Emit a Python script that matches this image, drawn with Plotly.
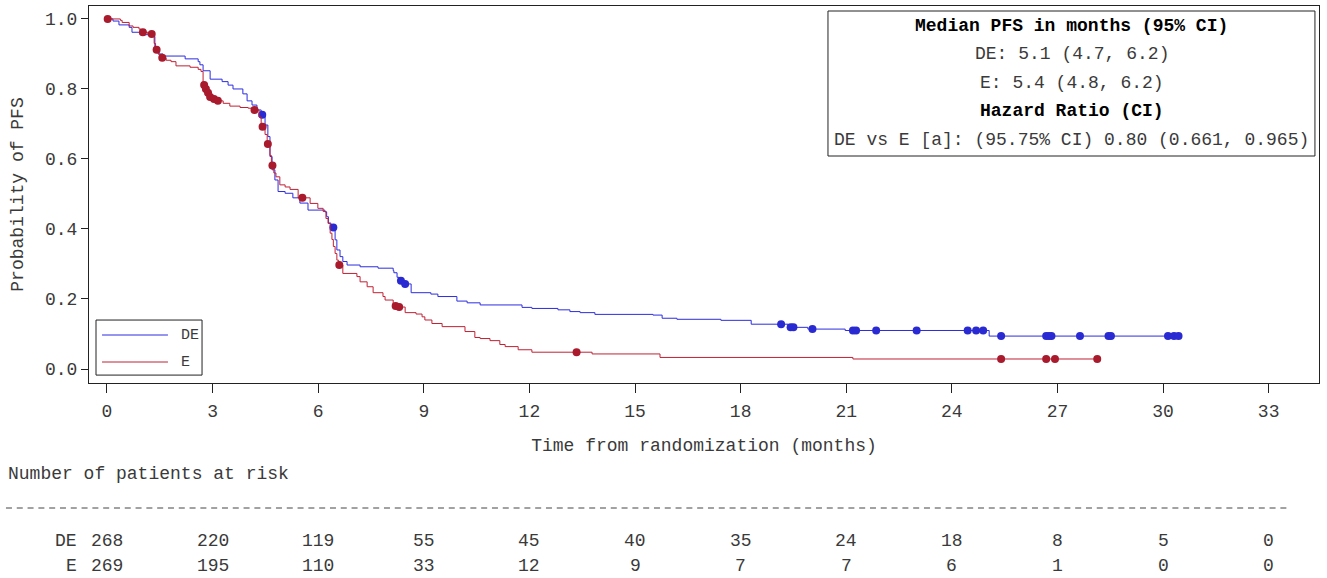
import numpy as np
import plotly.graph_objects as go

# ---- Kaplan-Meier estimates (months, survival probability after each event) ----
de_event_t = [0.17, 0.34, 0.63, 0.71, 0.94, 1.31, 1.36, 1.45, 1.59, 2.22, 2.59, 2.64, 2.73, 2.93,
              3.27, 3.44, 3.58, 3.86, 3.98, 4.12, 4.26, 4.38, 4.49, 4.57, 4.63, 4.69, 4.77, 4.86,
              5.06, 5.28, 5.48, 5.71, 6.19, 6.24, 6.29, 6.36, 6.48, 6.53, 6.62, 6.70, 6.82, 7.19,
              7.70, 8.13, 8.15, 8.24, 8.30, 8.41, 8.64, 9.20, 9.40, 9.94, 10.23, 10.60, 11.79,
              12.07, 12.81, 13.15, 13.44, 13.86, 15.51, 15.77, 16.19, 17.44, 18.30, 19.35, 19.91,
              20.97, 25.06]
de_event_s = [0.994, 0.983, 0.976, 0.962, 0.955, 0.950, 0.920, 0.900, 0.894, 0.886, 0.878, 0.869,
              0.852, 0.828, 0.821, 0.811, 0.800, 0.786, 0.766, 0.754, 0.740, 0.726, 0.697, 0.664,
              0.607, 0.569, 0.540, 0.507, 0.502, 0.489, 0.474, 0.454, 0.449, 0.435, 0.417, 0.404,
              0.369, 0.340, 0.321, 0.307, 0.297, 0.292, 0.288, 0.281, 0.275, 0.262, 0.252, 0.243,
              0.218, 0.214, 0.207, 0.194, 0.189, 0.183, 0.176, 0.173, 0.169, 0.164, 0.161, 0.156,
              0.154, 0.145, 0.142, 0.139, 0.128, 0.119, 0.114, 0.110, 0.094]
de_censor_t = [4.41, 6.43, 8.35, 8.47, 19.15, 19.42, 19.50, 20.04, 21.19, 21.28, 21.85, 23.00,
               24.45, 24.69, 24.89, 25.40, 26.68, 26.76, 26.83, 27.64, 28.45, 28.52, 30.14,
               30.31, 30.44]

e_event_t = [0.38, 0.43, 0.63, 0.74, 0.91, 0.97, 1.16, 1.34, 1.38, 1.48, 1.55, 1.68, 1.82, 1.96,
             2.36, 2.59, 2.67, 2.73, 2.78, 2.84, 2.90, 2.98, 3.10, 3.30, 3.49, 3.78, 4.01, 4.12,
             4.32, 4.38, 4.49, 4.55, 4.63, 4.67, 4.74, 4.80, 4.91, 5.06, 5.20, 5.43, 5.77, 5.99,
             6.14, 6.22, 6.28, 6.34, 6.39, 6.43, 6.48, 6.53, 6.58, 6.70, 7.10, 7.19, 7.39, 7.56,
             7.84, 7.90, 8.13, 8.24, 8.47, 8.78, 8.95, 9.03, 9.23, 9.52, 10.17, 10.45, 10.60,
             10.88, 11.16, 11.31, 11.68, 12.07, 13.78, 15.71, 21.19]
e_event_s = [0.996, 0.990, 0.980, 0.976, 0.971, 0.962, 0.957, 0.930, 0.912, 0.897, 0.889, 0.882,
             0.878, 0.866, 0.862, 0.856, 0.850, 0.811, 0.800, 0.789, 0.777, 0.771, 0.766, 0.759,
             0.751, 0.747, 0.745, 0.740, 0.720, 0.692, 0.670, 0.643, 0.610, 0.581, 0.560, 0.549,
             0.526, 0.520, 0.513, 0.489, 0.473, 0.459, 0.450, 0.430, 0.416, 0.388, 0.370, 0.350,
             0.330, 0.311, 0.297, 0.273, 0.264, 0.249, 0.235, 0.218, 0.207, 0.197, 0.180, 0.177,
             0.161, 0.157, 0.149, 0.140, 0.130, 0.121, 0.107, 0.090, 0.087, 0.081, 0.070, 0.064,
             0.055, 0.048, 0.043, 0.033, 0.0286]
e_censor_t = [0.02, 1.02, 1.27, 1.41, 1.57, 2.76, 2.81, 2.87, 2.93, 3.04, 3.15, 4.19, 4.42, 4.57,
              4.70, 5.55, 6.60, 8.20, 8.30, 13.34, 25.40, 26.68, 26.93, 28.13]

# ---- numbers at risk ----
risk_times = [0, 3, 6, 9, 12, 15, 18, 21, 24, 27, 30, 33]
risk_de = [268, 220, 119, 55, 45, 40, 35, 24, 18, 8, 5, 0]
risk_e = [269, 195, 110, 33, 12, 9, 7, 7, 6, 1, 0, 0]

arm_names = ["DE", "E"]
line_colors = ["#2c2ce0", "#c02034"]
dot_colors = ["#2a2ad2", "#a81a2c"]

x_ticks = list(range(0, 34, 3))
y_ticks = [0.0, 0.2, 0.4, 0.6, 0.8, 1.0]

stats_lines = [
    "<b>Median PFS in months (95% CI)</b>",
    "DE: 5.1 (4.7, 6.2)",
    "E: 5.4 (4.8, 6.2)",
    "<b>Hazard Ratio (CI)</b>",
    "DE vs E [a]: (95.75% CI) 0.80 (0.661, 0.965)",
]

FONT = "Liberation Mono, Courier New, monospace"
TXT = "#3a3a3a"


def km_path(ev_t, ev_s, cen_t):
    """Step path from t=0 to the last observation, plus survival at censor times."""
    ev_t = np.asarray(ev_t, float)
    ev_s = np.asarray(ev_s, float)
    t_end = max(ev_t.max(), max(cen_t))
    xs = np.concatenate([[0.0], ev_t, [t_end]])
    ys = np.concatenate([[1.0], ev_s, [ev_s[-1]]])
    idx = np.searchsorted(ev_t, np.asarray(cen_t), side="right")
    surv_all = np.concatenate([[1.0], ev_s])
    return xs, ys, surv_all[idx]


fig = go.Figure()
arms = [(de_event_t, de_event_s, de_censor_t), (e_event_t, e_event_s, e_censor_t)]
for k, (et, es, ct) in enumerate(arms):
    xs, ys, cy = km_path(et, es, ct)
    fig.add_trace(go.Scatter(x=xs, y=ys, mode="lines", line=dict(shape="hv", color=line_colors[k], width=1),
                             name=arm_names[k], showlegend=False, hoverinfo="skip"))
    fig.add_trace(go.Scatter(x=ct, y=cy, mode="markers", marker=dict(color=dot_colors[k], size=8),
                             name=arm_names[k] + " censored", showlegend=False, hoverinfo="skip"))

# Legend box drawn inside the plotting area (lower-left)
shapes = [
    dict(type="rect", xref="paper", yref="paper", x0=0.0057, x1=0.0919, y0=0.021, y1=0.167,
         line=dict(color="#222", width=1), fillcolor="white", layer="above"),
    dict(type="line", xref="paper", yref="paper", x0=0.0106, x1=0.0642, y0=0.1273, y1=0.1273,
         line=dict(color=line_colors[0], width=1), layer="above"),
    dict(type="line", xref="paper", yref="paper", x0=0.0106, x1=0.0642, y0=0.0557, y1=0.0557,
         line=dict(color=line_colors[1], width=1), layer="above"),
    # statistics box
    dict(type="rect", xref="paper", yref="paper", x0=0.6008, x1=0.9967, y0=0.6021, y1=0.9867,
         line=dict(color="#222", width=1), fillcolor="white", layer="below"),
    # separator of the risk table
    dict(type="line", xref="paper", yref="paper", x0=-0.0675, x1=0.977, y0=-0.3316, y1=-0.3316,
         line=dict(color="#444", width=1, dash="6px,4.8px")),
]

annotations = [
    dict(xref="paper", yref="paper", x=0.0732, y=0.1273, text="DE", showarrow=False,
         xanchor="left", yanchor="middle", font=dict(family=FONT, size=15, color=TXT)),
    dict(xref="paper", yref="paper", x=0.0732, y=0.0557, text="E", showarrow=False,
         xanchor="left", yanchor="middle", font=dict(family=FONT, size=15, color=TXT)),
    dict(xref="paper", yref="paper", x=-0.0675, y=-0.2420, text="Number of patients at risk",
         showarrow=False, xanchor="left", yanchor="middle", font=dict(family=FONT, size=18, color=TXT)),
]

stats_y = [0.9478, 0.8719, 0.7950, 0.7215, 0.6446]
for txt, yy in zip(stats_lines, stats_y):
    bold = txt.startswith("<b>")
    annotations.append(dict(xref="paper", yref="paper", x=0.7988, y=yy, text=txt, showarrow=False,
                            xanchor="center", yanchor="middle",
                            font=dict(family=FONT, size=18, color="#000" if bold else TXT)))

row_y = [-0.4200, -0.4860]
for name, counts, yy in zip(arm_names, [risk_de, risk_e], row_y):
    # arm label sits just left of the t=0 column, outside the axis range
    annotations.append(dict(xref="paper", yref="paper", x=-0.0081, y=yy, text=name, showarrow=False,
                            xanchor="right", yanchor="middle", font=dict(family=FONT, size=18, color=TXT)))
    for t, n in zip(risk_times, counts):
        annotations.append(dict(xref="x", yref="paper", x=t, y=yy, text=str(n), showarrow=False,
                                xanchor="center", yanchor="middle",
                                font=dict(family=FONT, size=18, color=TXT)))

fig.update_layout(
    width=1327, height=578,
    margin=dict(l=89, r=8, t=6, b=195),
    paper_bgcolor="white", plot_bgcolor="white",
    font=dict(family=FONT, size=18, color=TXT),
    shapes=shapes, annotations=annotations,
    xaxis=dict(range=[-0.511, 34.43], tickvals=x_ticks, ticks="outside", ticklen=9, tickcolor="#222",
               showline=True, mirror=True, linecolor="#222", linewidth=1, showgrid=False, zeroline=False,
               ticklabelstandoff=2,
               tickfont=dict(family=FONT, size=18, color=TXT),
               title=dict(text="Time from randomization (months)", standoff=17,
                          font=dict(family=FONT, size=18, color=TXT))),
    yaxis=dict(range=[-0.04, 1.037], tickvals=y_ticks, tickformat=".1f", ticks="outside", ticklen=7,
               tickcolor="#222", showline=True, mirror=True, linecolor="#222", linewidth=1,
               showgrid=False, zeroline=False, tickfont=dict(family=FONT, size=18, color=TXT),
               title=dict(text="Probability of PFS", standoff=16,
                          font=dict(family=FONT, size=18, color=TXT))),
)

fig.write_html("out.html", config={"displayModeBar": False})
